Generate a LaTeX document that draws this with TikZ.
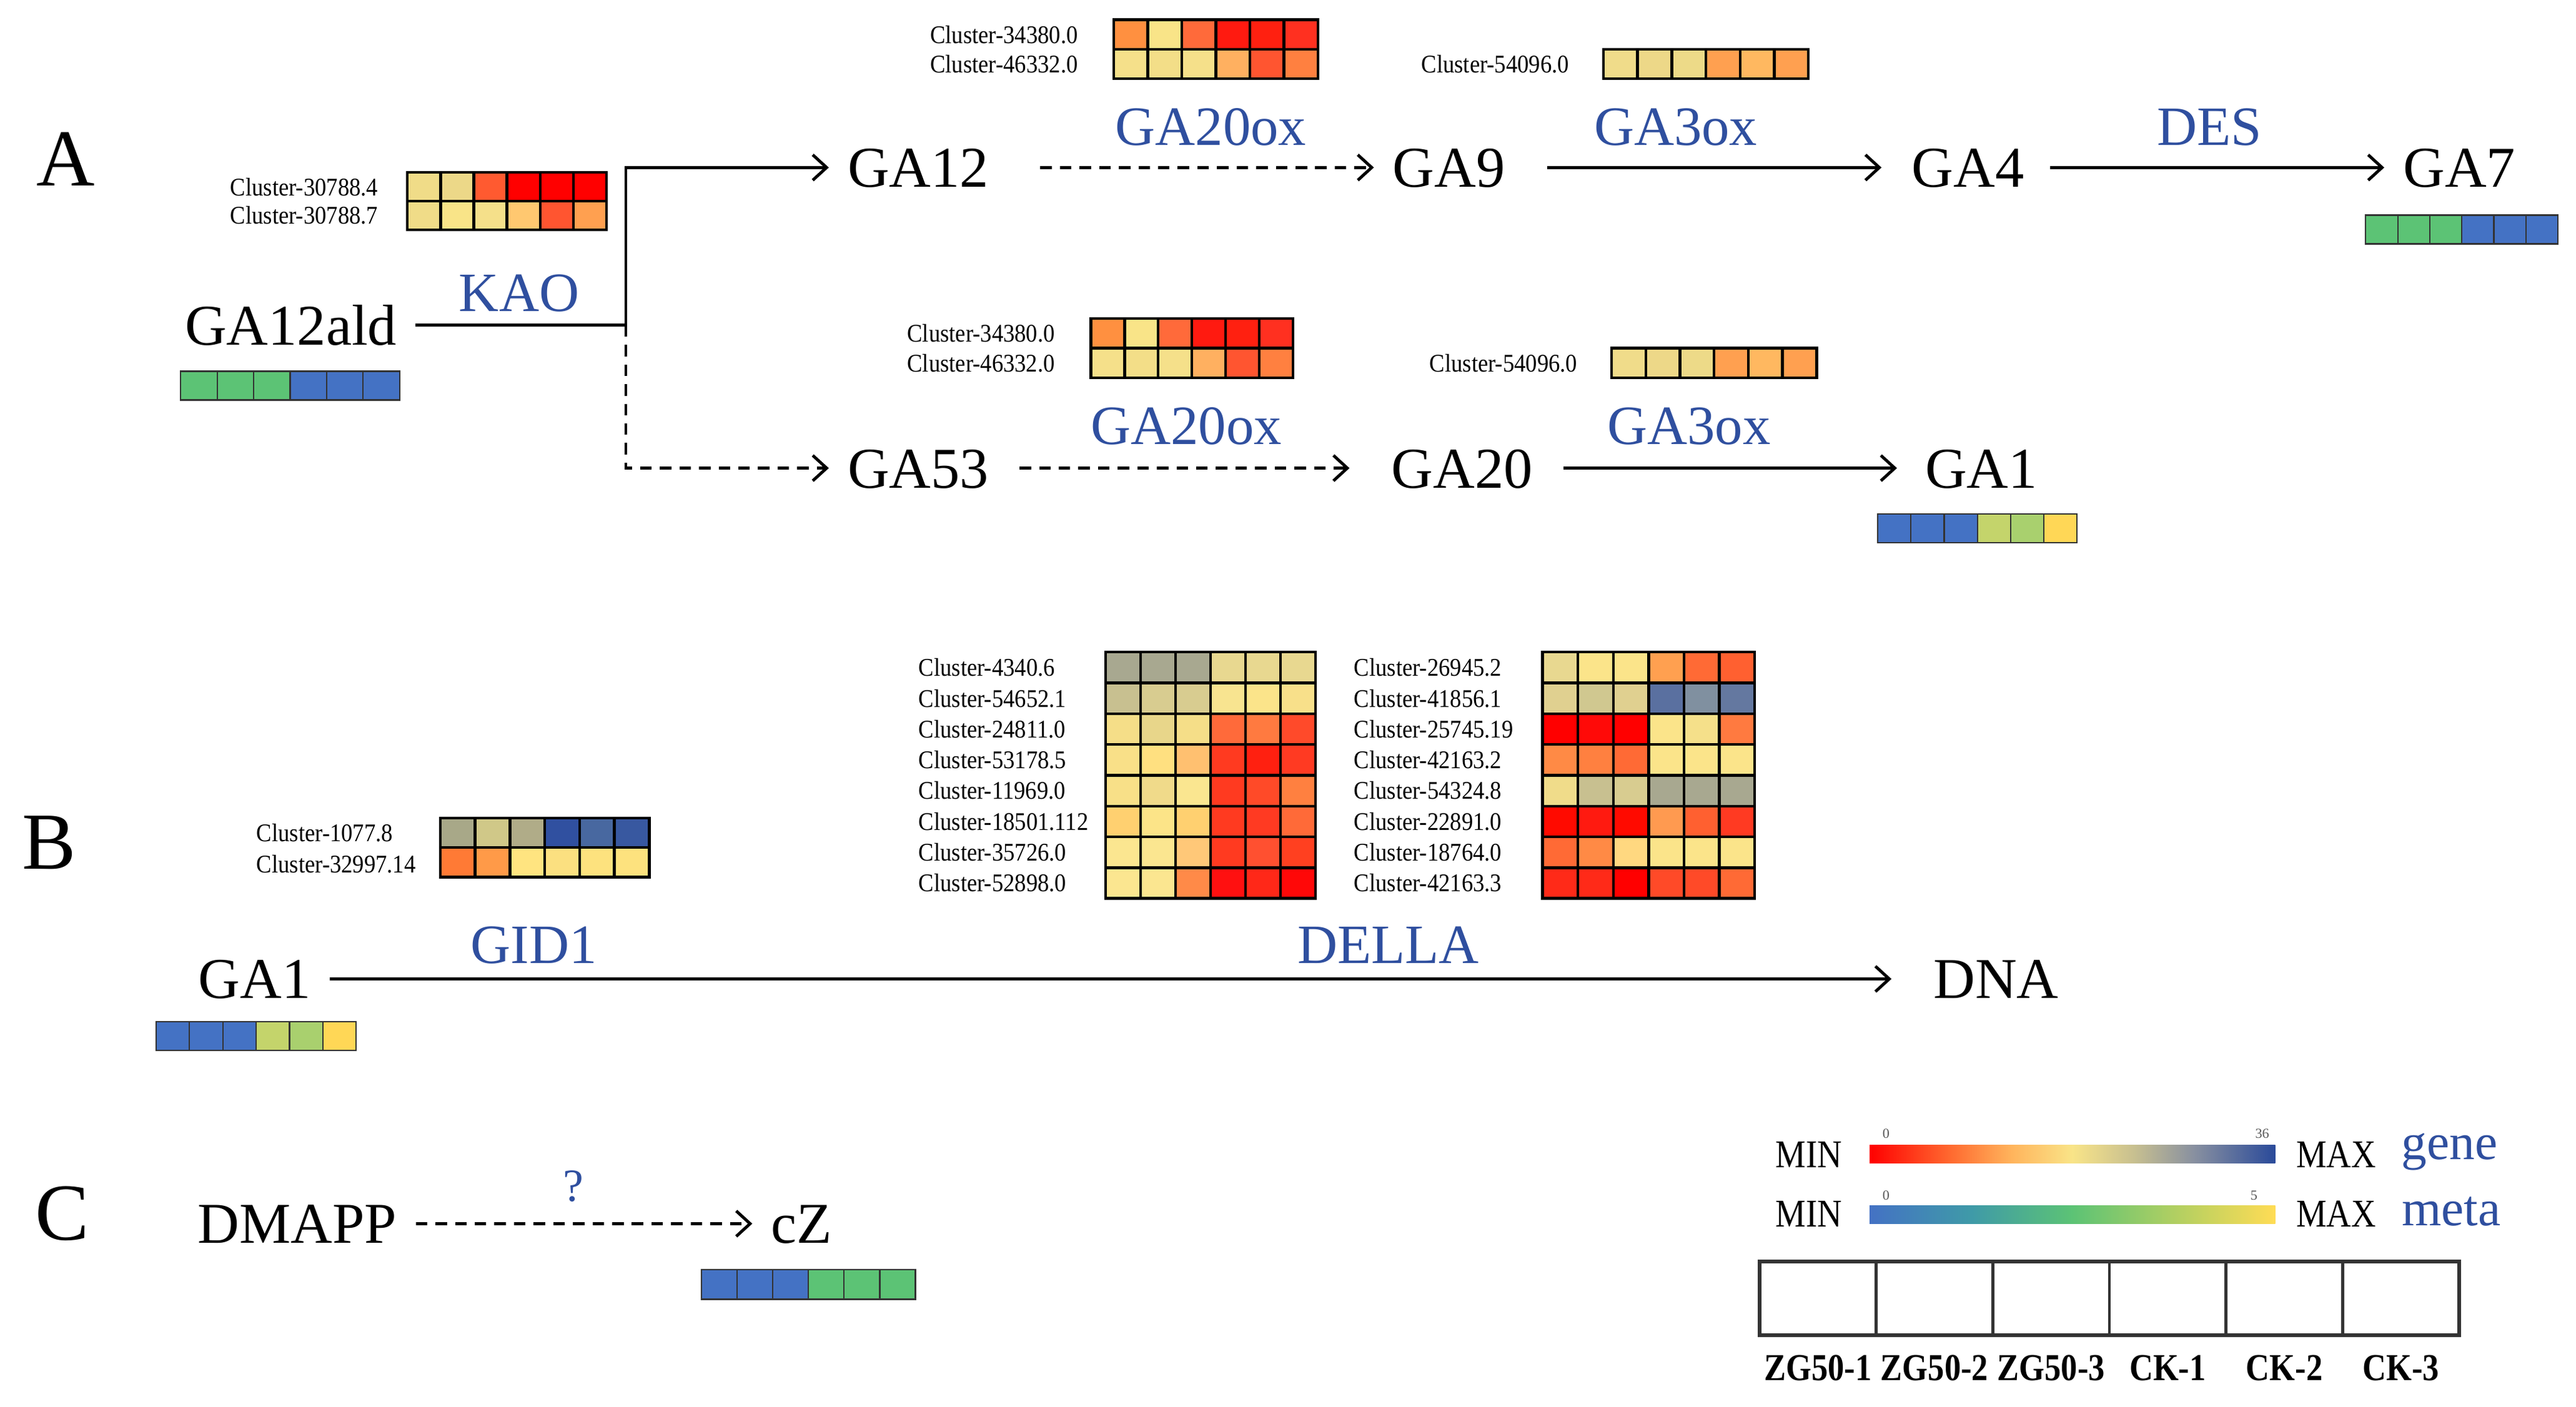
\documentclass[tikz,border=0pt]{standalone}
\usepackage{fontspec}
\setmainfont{Liberation Serif}
\usetikzlibrary{arrows.meta}
\definecolor{lblue}{HTML}{2F4F9F}
\definecolor{gA}{HTML}{FF0000}
\definecolor{gB}{HTML}{FF6A30}
\definecolor{gC}{HTML}{FFB45C}
\definecolor{gD}{HTML}{F9E488}
\definecolor{gE}{HTML}{C8C090}
\definecolor{gF}{HTML}{8890A0}
\definecolor{gG}{HTML}{2A4A9A}
\definecolor{mA}{HTML}{4472C4}
\definecolor{mB}{HTML}{3F9AA8}
\definecolor{mC}{HTML}{5CC375}
\definecolor{mD}{HTML}{B0CF62}
\definecolor{mE}{HTML}{FFDC55}
\pgfdeclarehorizontalshading{geneshade}{100bp}{color(0bp)=(gA); color(25bp)=(gA); color(35bp)=(gB); color(42.5bp)=(gC); color(50bp)=(gD); color(57.5bp)=(gE); color(65bp)=(gF); color(75bp)=(gG); color(100bp)=(gG)}
\pgfdeclarehorizontalshading{metashade}{100bp}{color(0bp)=(mA); color(25bp)=(mA); color(37.5bp)=(mB); color(50bp)=(mC); color(62.5bp)=(mD); color(75bp)=(mE); color(100bp)=(mE)}
% heat-map row: [options]{x}{y}{cell w}{cell h}{colours}
\newcommand\hmrow[6][line width=1.2pt]{%
  \foreach \cc [count=\ii from 0] in {#6}{%
    \edef\tmpdef{\noexpand\definecolor{hmc}{HTML}{\cc}}\tmpdef
    \filldraw[fill=hmc, draw=black, #1] ({#2+\ii*#4},#3) rectangle ++(#4,#5);
  }%
}
\begin{document}
\begin{tikzpicture}[x=0.025cm,y=-0.025cm,
  lbl/.style={font=\fontsize{25}{30}\selectfont, text height=17pt, text depth=0pt, inner xsep=8pt, inner ysep=2pt},
  enz/.style={font=\fontsize{24}{29}\selectfont, text=lblue, text height=16.3pt, text depth=0pt, inner sep=0pt},
  cl/.style={font=\fontsize{11}{13}\selectfont, anchor=west, inner sep=0pt, xscale=0.9, transform shape},
  sec/.style={font=\fontsize{35}{40}\selectfont, inner sep=0pt},
  conn/.style={line width=1.3pt},
  arr/.style={conn, -{Straight Barb[length=6pt,width=11pt]}},
  dsh/.style={dash pattern=on 5pt off 3.5pt},
  leg/.style={font=\fontsize{17}{20}\selectfont, inner sep=0pt, xscale=0.87, transform shape},
  tick/.style={font=\fontsize{6}{7}\selectfont, text=black!65, inner sep=0pt},
  samp/.style={font=\bfseries\fontsize{16.5}{19}\selectfont, inner sep=0pt, xscale=0.86, transform shape},
  legw/.style={font=\fontsize{22}{26}\selectfont, text=lblue, inner sep=0pt, anchor=base},
  metab/.style={line width=0.6pt, draw=black!80}
]
\useasboundingbox (0,0) rectangle (1568,856.6);

% ---------------- Section A ----------------
\node[sec] (secA) at (40,97) {A};
\node[lbl] (ga12ald) at (177,198) {GA12ald};
\node[lbl] (ga12) at (559,102) {GA12};
\node[lbl] (ga9) at (882,102) {GA9};
\node[lbl] (ga4) at (1198,102) {GA4};
\node[lbl] (ga7) at (1497,102) {GA7};
\node[lbl] (ga53) at (559,285) {GA53};
\node[lbl] (ga20) at (890,285) {GA20};
\node[lbl] (ga1a) at (1206,285) {GA1};

\coordinate (br) at (381,198);
\draw[conn] (ga12ald.east) -- (br);
\draw[arr] (br) |- (ga12.west);
\draw[arr,dsh] (br) |- (ga53.west);
\draw[arr,dsh,shorten <=14pt] (ga12) -- (ga9);
\draw[arr,shorten <=10pt,shorten >=5pt] (ga9) -- (ga4);
\draw[arr,shorten <=3pt] (ga4) -- (ga7);
\draw[arr,dsh,shorten <=5pt,shorten >=10pt] (ga53) -- (ga20);
\draw[arr,shorten <=5pt,shorten >=4pt] (ga20) -- (ga1a);

\node[enz] (kao) at (316,178) {KAO};
\node[enz] (e20a) at (737,77) {GA20ox};
\node[enz] (e3a) at (1020,77) {GA3ox};
\node[enz] (des) at (1345,77) {DES};
\node[enz] (e20b) at (722,259) {GA20ox};
\node[enz] (e3b) at (1028,259) {GA3ox};

% heat maps of section A
\node[cl] (c1) at (566,21) {Cluster-34380.0};
\node[cl] (c2) at (566,39) {Cluster-46332.0};
\hmrow{678}{12}{20.7}{18}{FF9040,F9E488,FF6A3A,FF1A10,FF2010,FF3020}
\hmrow{678}{30}{20.7}{18}{F5E08A,F3DE88,F5E08A,FFB060,FF5530,FF8040}
\node[cl] (c3) at (865,39) {Cluster-54096.0};
\hmrow{976}{30}{20.8}{18}{F0DC8A,EDD888,EDDA88,FFA050,FFB860,FFA050}

\node[cl] (c4) at (140,114) {Cluster-30788.4};
\node[cl] (c5) at (140,131) {Cluster-30788.7};
\hmrow{248}{105}{20.2}{17.5}{F0DC88,ECD888,FF5A30,FF0000,FF0000,FF0000}
\hmrow{248}{122.5}{20.2}{17.5}{F0DC88,F9E488,F5E08A,FFC870,FF5530,FFA050}

\node[cl] (c6) at (552,203) {Cluster-34380.0};
\node[cl] (c7) at (552,221) {Cluster-46332.0};
\hmrow{664}{194}{20.5}{18}{FF9040,F9E488,FF6A3A,FF1A10,FF2010,FF3020}
\hmrow{664}{212}{20.5}{18}{F5E08A,F3DE88,F5E08A,FFB060,FF5530,FF8040}
\node[cl] (c8) at (870,221) {Cluster-54096.0};
\hmrow{981}{212}{20.8}{18}{F0DC8A,EDD888,EDDA88,FFA050,FFB860,FFA050}

% metabolite bars A
\hmrow[metab]{110}{226}{22.2}{17.5}{5CC375,5CC375,5CC375,4472C4,4472C4,4472C4}
\hmrow[metab]{1440}{131}{19.5}{17.5}{5CC375,5CC375,5CC375,4472C4,4472C4,4472C4}
\hmrow[metab]{1143}{313}{20.2}{17.5}{4472C4,4472C4,4472C4,C4D46B,A9D06E,FFD756}

% ---------------- Section B ----------------
\node[sec] (secB) at (30,513) {B};
\node[lbl] (ga1b) at (155,596) {GA1};
\node[lbl] (dna) at (1215,596) {DNA};
\draw[arr,shorten >=10pt] (ga1b) -- (dna);
\node[enz] (gid1) at (325,575) {GID1};
\node[enz] (della) at (845,575) {DELLA};

\node[cl] (c9) at (156,507) {Cluster-1077.8};
\node[cl] (c10) at (156,526) {Cluster-32997.14};
\hmrow{268}{498}{21.2}{18}{A8A888,D0C888,B0AC88,3050A0,4868A0,3858A0}
\hmrow{268}{516}{21.2}{18}{FF7A35,FF9A48,FFE480,FBE080,FDE27E,FDE27E}
\hmrow[metab]{95}{622}{20.3}{17.5}{4472C4,4472C4,4472C4,C4D46B,A9D06E,FFD756}

% DELLA left
\foreach \lab [count=\k from 0] in {Cluster-4340.6,Cluster-54652.1,Cluster-24811.0,Cluster-53178.5,Cluster-11969.0,Cluster-18501.112,Cluster-35726.0,Cluster-52898.0}
  \node[cl] (dl\k) at (559,{406.4+\k*18.75}) {\lab};
\hmrow{673}{397}{21.3}{18.75}{A8A890,A8A890,A8A890,E8D890,E8D890,E8D890}
\hmrow{673}{415.75}{21.3}{18.75}{C8C090,D8CC90,D8CC90,F8E490,FBE48A,F8E08A}
\hmrow{673}{434.5}{21.3}{18.75}{F5DE88,E8D68A,F5DE88,FF6A3A,FF7A40,FF4A2A}
\hmrow{673}{453.25}{21.3}{18.75}{F9E088,FFE080,FFC070,FF3A20,FF2010,FF3A22}
\hmrow{673}{472}{21.3}{18.75}{F8E088,F0DA8A,FAE690,FF3A20,FF4A28,FF8040}
\hmrow{673}{490.75}{21.3}{18.75}{FFD070,FCE488,FFD070,FF3A20,FF3A22,FF6A38}
\hmrow{673}{509.5}{21.3}{18.75}{FBE690,FBE690,FFC878,FF3A20,FF5030,FF4020}
\hmrow{673}{528.25}{21.3}{18.75}{FBE690,FBE690,FF8A48,FF1010,FF2818,FF0808}
% DELLA right
\foreach \lab [count=\k from 0] in {Cluster-26945.2,Cluster-41856.1,Cluster-25745.19,Cluster-42163.2,Cluster-54324.8,Cluster-22891.0,Cluster-18764.0,Cluster-42163.3}
  \node[cl] (dr\k) at (824,{406.4+\k*18.75}) {\lab};
\hmrow{939}{397}{21.5}{18.75}{E8D890,FBE48A,FBE48A,FFA050,FF6A35,FF6030}
\hmrow{939}{415.75}{21.5}{18.75}{E0D090,D0C890,E0D090,5A70A0,8090A0,6478A0}
\hmrow{939}{434.5}{21.5}{18.75}{FF0000,FF0A08,FF0000,FBE48A,F5E08A,FF7A40}
\hmrow{939}{453.25}{21.5}{18.75}{FF8A45,FF8040,FF6A35,FBE48A,FBE48A,FBE48A}
\hmrow{939}{472}{21.5}{18.75}{F0DC8A,C8C090,D8CC90,A8A890,A8A890,A8A890}
\hmrow{939}{490.75}{21.5}{18.75}{FF0A00,FF1A10,FF0A00,FF9A50,FF6030,FF3A22}
\hmrow{939}{509.5}{21.5}{18.75}{FF6A35,FF8A45,FFD880,FBE48A,FBE48A,FBE48A}
\hmrow{939}{528.25}{21.5}{18.75}{FF2A18,FF2A18,FF0000,FF4A28,FF4A28,FF6A35}

% ---------------- Section C ----------------
\node[sec] (secC) at (38,739) {C};
\node[lbl] (dmapp) at (181,745) {DMAPP};
\node[lbl] (cz) at (488,745) {cZ};
\draw[arr,dsh] (dmapp) -- (cz);
\node[enz,font=\fontsize{20}{24}\selectfont] (q) at (349,720) {?};
\hmrow[metab]{427}{773}{21.7}{18}{4472C4,4472C4,4472C4,5CC375,5CC375,5CC375}

% ---------------- Legend ----------------
\node[leg] (min1) at (1101,703) {MIN};
\shade[shading=geneshade] (1138,697) rectangle (1385,708);
\node[tick] (t0a) at (1148,690) {0};
\node[tick] (t36) at (1377,690) {36};
\node[leg] (max1) at (1422,703) {MAX};
\node[legw] (gene) at (1491,706) {gene};

\node[leg] (min2) at (1101,739) {MIN};
\shade[shading=metashade] (1138,734) rectangle (1385,745);
\node[tick] (t0b) at (1148,728) {0};
\node[tick] (t5) at (1372,728) {5};
\node[leg] (max2) at (1422,739) {MAX};
\node[legw] (meta) at (1492,746) {meta};

\draw[line width=1.6pt, draw=black!80] (1071,768) rectangle (1497,813);
\foreach \k in {1,...,5}
  \draw[line width=1.3pt, draw=black!80] ({1071+\k*71},768) -- ({1071+\k*71},813);
\foreach \lab [count=\k from 0] in {ZG50-1,ZG50-2,ZG50-3,CK-1,CK-2,CK-3}
  \node[samp] (s\k) at ({1106.5+\k*71},833) {\lab};
\end{tikzpicture}
\end{document}
